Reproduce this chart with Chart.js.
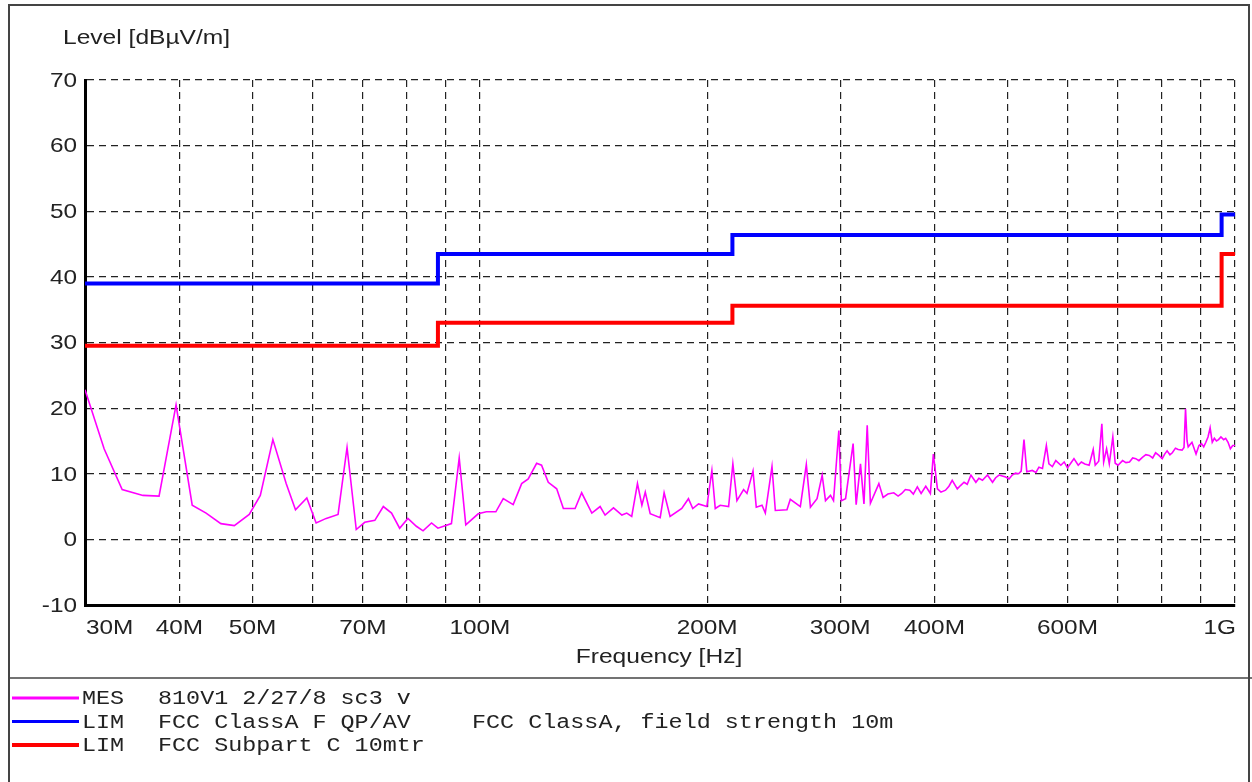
<!DOCTYPE html>
<html>
<head>
<meta charset="utf-8">
<script src="https://cdn.jsdelivr.net/npm/chart.js@4.4.1/dist/chart.umd.min.js"></script>
<style>
  html, body { margin: 0; padding: 0; background: #fff; }
  #wrap { width: 1252px; height: 782px; position: relative; }
</style>
</head>
<body>
<div id="wrap"><canvas id="emcChart"></canvas></div>
<script>
// Measured trace (frequency in MHz, level in dBuV/m)
const mesFreq = [
  30.0, 31.8, 33.6, 35.8, 37.6, 39.6, 41.6, 43.4, 45.4, 47.3,
  49.5, 51.2, 53.2, 55.4, 57.0, 59.0, 60.7, 62.6, 64.9, 66.7,
  68.6, 70.4, 72.6, 74.5, 76.4, 78.3, 80.3, 82.4, 84.1, 86.3,
  88.0, 91.7, 93.9, 95.8, 99.5, 102, 105, 107.4, 110.7, 113.6,
  115.9, 118.9, 120.7, 123.2, 126.4, 129, 133.7, 136.4, 140.7, 144.3,
  146.5, 150.3, 154.2, 156.5, 158.9, 161.7, 163.9, 165.6, 168.1, 173.3,
  175.4, 178.6, 185.1, 188.9, 191.4, 194.8, 199.8, 202.9, 205, 208.1,
  213.5, 216.3, 219, 223.5, 225.8, 230, 232.3, 236.4, 238.8, 243.7,
  246.2, 255.1, 257.7, 265.7, 270.6, 274, 279.6, 284, 286.9, 291.3,
  294, 298.8, 301.1, 305, 312.1, 315, 319.2, 322.6, 325.8, 329,
  337.6, 342, 347, 353.3, 358, 362, 366, 371, 375, 379.6,
  384, 389.5, 395, 398.6, 403.6, 408, 413.7, 418, 422.2, 428.8,
  433, 437.7, 442, 447, 453.8, 458, 463, 470.1, 477.4, 482,
  487, 497, 502, 507, 512, 517, 521, 525.5, 530, 539,
  545, 550, 556, 562.6, 567, 573, 579, 588, 594, 600,
  606, 612, 620, 626, 632.6, 641, 649, 653, 660, 666.3,
  670, 676, 681.6, 689, 694, 700, 709.8, 717, 724.9, 732,
  739, 746, 754, 762, 770, 778, 785, 793, 801, 807,
  813, 820, 826, 834, 841, 851, 856, 860, 864, 867,
  877, 888, 896, 903, 909, 915, 921, 927, 933, 939,
  945, 951, 958, 966, 972, 979, 986, 993, 1000
];
const mesLevel = [
  22.8, 13.8, 7.6, 6.7, 6.6, 20.5, 5.2, 4.0, 2.4, 2.1,
  3.8, 6.7, 15.2, 8.5, 4.5, 6.3, 2.5, 3.2, 3.8, 14.0,
  1.5, 2.6, 2.9, 5.0, 4.0, 1.7, 3.2, 2.0, 1.3, 2.5,
  1.7, 2.4, 12.4, 2.2, 3.9, 4.2, 4.2, 6.2, 5.3, 8.5,
  9.2, 11.6, 11.3, 8.7, 7.7, 4.7, 4.7, 7.1, 4.0, 5.0,
  3.7, 4.8, 3.7, 4.0, 3.5, 8.5, 5.2, 7.2, 3.9, 3.3,
  7.1, 3.5, 4.7, 6.2, 4.7, 5.4, 5.0, 10.5, 4.7, 5.2,
  5.0, 11.5, 5.9, 7.6, 7.0, 10.4, 4.9, 5.2, 4.0, 11.1,
  4.4, 4.5, 6.1, 5.0, 11.4, 4.9, 6.2, 9.8, 5.9, 6.7,
  5.9, 16.6, 5.9, 6.2, 14.6, 5.3, 11.5, 5.4, 17.4, 5.5,
  8.5, 6.4, 6.9, 7.1, 6.6, 7.0, 7.6, 7.5, 6.9, 8.0,
  7.0, 8.1, 7.0, 13.0, 7.7, 7.2, 7.5, 8.1, 9.0, 7.7,
  8.2, 8.7, 8.4, 9.8, 8.7, 9.3, 9.0, 9.8, 8.7, 9.4,
  9.8, 9.5, 9.2, 9.8, 10.1, 10.0, 10.4, 15.2, 10.3, 10.5,
  10.2, 11.0, 10.8, 14.3, 11.5, 11.1, 12.0, 11.3, 11.8, 10.9,
  11.6, 12.3, 11.3, 11.8, 11.5, 11.3, 13.7, 11.3, 11.9, 17.6,
  11.8, 13.8, 11.5, 15.6, 11.6, 11.3, 12.0, 11.7, 11.8, 12.4,
  12.3, 12.0, 12.5, 12.9, 12.8, 12.4, 13.2, 12.8, 12.3, 13.0,
  13.5, 12.9, 13.2, 13.9, 13.7, 13.6, 14.0, 19.9, 15.0, 14.1,
  14.8, 13.0, 14.3, 14.6, 14.1, 14.8, 15.6, 17.0, 14.8, 15.4,
  15.0, 15.2, 15.6, 15.2, 15.4, 14.8, 13.8, 14.3, 14.3
];

// Limit lines (step points, MHz)
const limitFreq = [30, 88, 216, 960, 1000];
const classALevel = [39.0, 43.5, 46.4, 49.5, 49.5];
const subpartCLevel = [29.5, 33.0, 35.6, 43.5, 43.5];

// Axis ticks
const xGridTicks = [30, 40, 50, 60, 70, 80, 90, 100, 200, 300, 400, 500, 600, 700, 800, 900, 1000];
const xTickLabels = { 30: "30M", 40: "40M", 50: "50M", 70: "70M", 100: "100M", 200: "200M", 300: "300M", 400: "400M", 600: "600M", 1000: "1G" };
const yTicks = [-10, 0, 10, 20, 30, 40, 50, 60, 70];

// Legend rows
const legendRows = [
  { color: "#ff00ff", width: 3, cols: ["MES", "810V1 2/27/8 sc3 v", ""] },
  { color: "#0000ff", width: 3, cols: ["LIM", "FCC ClassA F QP/AV", "FCC ClassA, field strength 10m"] },
  { color: "#ff0000", width: 4, cols: ["LIM", "FCC Subpart C 10mtr", ""] }
];

const toPoints = (xs, ys) => xs.map((x, i) => ({ x: x, y: ys[i] }));

// draw text squeezed/stretched horizontally like the original plot
function drawText(ctx, text, x, y, align, sx) {
  ctx.save();
  ctx.translate(x, y);
  ctx.scale(sx, 1);
  ctx.textAlign = align;
  ctx.fillText(text, 0, 0);
  ctx.restore();
}

const decorPlugin = {
  id: "decor",
  beforeDraw(chart) {
    const ctx = chart.ctx;
    ctx.save();
    ctx.fillStyle = "#fff";
    ctx.fillRect(0, 0, chart.width, chart.height);
    ctx.restore();
  },
  afterDraw(chart) {
    const ctx = chart.ctx;
    const xs = chart.scales.x;
    const ys = chart.scales.y;
    const area = chart.chartArea;
    ctx.save();

    // outer frame and legend separator
    ctx.strokeStyle = "#444";
    ctx.lineWidth = 2;
    ctx.strokeRect(9, 5, 1240, 820);
    ctx.lineWidth = 1.5;
    ctx.beginPath();
    ctx.moveTo(9, 678);
    ctx.lineTo(1252, 678);
    ctx.stroke();

    // axis text
    ctx.fillStyle = "#222";
    ctx.font = "21px 'Liberation Sans', Arial, sans-serif";
    ctx.textBaseline = "middle";
    drawText(ctx, "Level [dBµV/m]", 63, 38, "left", 1.17);

    yTicks.forEach(v => {
      drawText(ctx, String(v), 77, ys.getPixelForValue(v) + 1, "right", 1.16);
    });

    Object.keys(xTickLabels).forEach(k => {
      const v = Number(k);
      const px = xs.getPixelForValue(v);
      let align = "center";
      let x = px;
      if (v === xs.min) { align = "left"; x = area.left + 1; }
      if (v === xs.max) { align = "right"; x = area.right + 1; }
      drawText(ctx, xTickLabels[k], x, 628, align, 1.16);
    });

    drawText(ctx, "Frequency [Hz]", 659, 657, "center", 1.17);

    // legend
    ctx.font = "20px 'Liberation Mono', 'Courier New', monospace";
    const colX = [82, 158, 472];
    legendRows.forEach((row, i) => {
      const y = 698 + i * 23.5;
      ctx.strokeStyle = row.color;
      ctx.lineWidth = row.width;
      ctx.beginPath();
      ctx.moveTo(12, y);
      ctx.lineTo(79, y);
      ctx.stroke();
      ctx.fillStyle = "#222";
      row.cols.forEach((t, c) => {
        if (t) drawText(ctx, t, colX[c], y + 1, "left", 1.17);
      });
    });

    ctx.restore();
  }
};

document.addEventListener("DOMContentLoaded", () => {
  const ctx = document.getElementById("emcChart");

  new Chart(ctx, {
    type: "line",
    data: {
      datasets: [
        {
          label: "MES 810V1 2/27/8 sc3 v",
          data: toPoints(mesFreq, mesLevel),
          borderColor: "#ff00ff",
          borderWidth: 1.6,
          pointRadius: 0,
          tension: 0,
        },
        {
          label: "LIM FCC ClassA F QP/AV",
          data: toPoints(limitFreq, classALevel),
          borderColor: "#0000ff",
          borderWidth: 4,
          pointRadius: 0,
          stepped: "before",
        },
        {
          label: "LIM FCC Subpart C 10mtr",
          data: toPoints(limitFreq, subpartCLevel),
          borderColor: "#ff0000",
          borderWidth: 4,
          pointRadius: 0,
          stepped: "before",
        },
      ],
    },
    options: {
      responsive: true,
      maintainAspectRatio: false,
      devicePixelRatio: 1,
      animation: false,
      events: [],
      layout: {
        autoPadding: false,
        padding: { left: 0, right: 17, top: 80, bottom: 0 },
      },
      plugins: {
        legend: { display: false },
        title: { display: false },
        tooltip: { enabled: false },
      },
      scales: {
        x: {
          type: "logarithmic",
          min: 30,
          max: 1000,
          afterBuildTicks: (scale) => {
            scale.ticks = xGridTicks.map(v => ({ value: v }));
          },
          afterFit: (scale) => { scale.height = 177; },
          ticks: { display: false },
          grid: { color: "#222", lineWidth: 1.2, drawTicks: false },
          border: { display: true, color: "#000", width: 3, dash: [7, 5] },
        },
        y: {
          min: -10,
          max: 70,
          afterBuildTicks: (scale) => {
            scale.ticks = yTicks.map(v => ({ value: v }));
          },
          afterFit: (scale) => { scale.width = 85; },
          ticks: { display: false },
          grid: { color: "#222", lineWidth: 1.2, drawTicks: false },
          border: { display: true, color: "#000", width: 3, dash: [7, 5] },
        },
      },
    },
    plugins: [decorPlugin],
  });
});
</script>
</body>
</html>
